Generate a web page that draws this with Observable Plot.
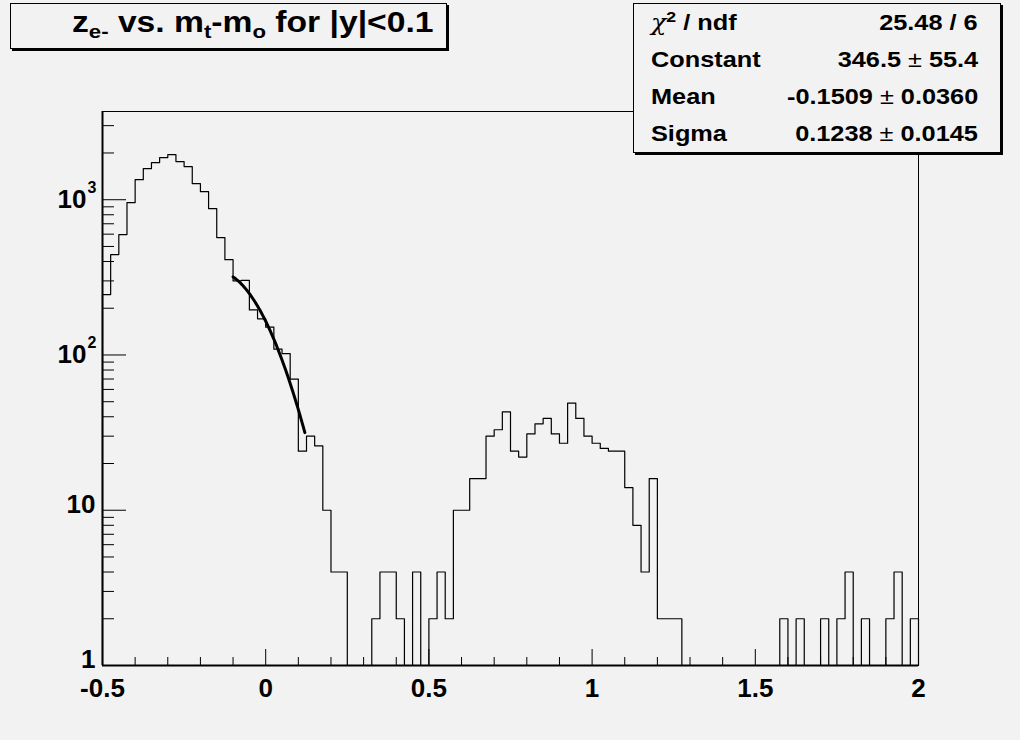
<!DOCTYPE html>
<html>
<head>
<meta charset="utf-8">
<script src="https://cdn.jsdelivr.net/npm/d3@7"></script>
<script src="https://cdn.jsdelivr.net/npm/@observablehq/plot@0.6"></script>
<style>
  html, body { margin: 0; padding: 0; background: #f2f2f2; overflow: hidden; }
  #wrap { position: relative; width: 1020px; height: 740px; background: #f2f2f2;
          font-family: "Liberation Sans", Arial, sans-serif; font-weight: bold; color: #000; }
  #chart svg { display: block; }
  .pave { position: absolute; box-sizing: border-box; border: 1px solid #000;
          box-shadow: 2px 2px 0 #000; background: #f2f2f2; }
  .title { left: 10px; top: 3px; width: 437px; height: 46px; }
  .title .tt { position: absolute; left: 61px; top: 4px; font-size: 29px; line-height: 1;
               white-space: nowrap; transform: scaleX(1.16); transform-origin: 0 0; }
  .title sub { font-size: 0.66em; vertical-align: -0.32em; line-height: 0; }
  .stats { left: 633px; top: 3px; width: 368px; height: 150px;
           display: flex; flex-direction: column; padding: 0 22px 0 17px; }
  .row { flex: 1; display: flex; justify-content: space-between; align-items: center;
         font-size: 22px; white-space: nowrap; }
  .row .l { transform: scaleX(1.15); transform-origin: 0 50%; }
  .row .r { transform: scaleX(1.15); transform-origin: 100% 50%; }
  .row sup { font-size: 0.7em; vertical-align: 0.5em; line-height: 0; }
  .pm { font-weight: normal; }
  .chi { font-weight: normal; font-family: "DejaVu Serif", serif; font-style: italic; }
</style>
</head>
<body>
<div id="wrap">
  <div id="chart"></div>
  <div class="pave title"><div class="tt">z<sub>e-</sub> vs. m<sub>t</sub>-m<sub>o</sub> for |y|&lt;0.1</div></div>
  <div class="pave stats">
    <div class="row"><span class="l"><span class="chi">χ</span><sup>2</sup> / ndf</span><span class="r">25.48 / 6</span></div>
    <div class="row"><span class="l">Constant</span><span class="r">346.5 <span class="pm">±</span> 55.4</span></div>
    <div class="row"><span class="l">Mean</span><span class="r">-0.1509 <span class="pm">±</span> 0.0360</span></div>
    <div class="row"><span class="l">Sigma</span><span class="r">0.1238 <span class="pm">±</span> 0.0145</span></div>
  </div>
</div>
<script>
// ---- data ----
const xMin = -0.5;
const xMax = 2.0;
const binWidth = 0.025;
const binCounts = [
  245, 443, 596, 958, 1347, 1586, 1734, 1867, 1951, 1760,
  1634, 1270, 1128, 877, 570, 411, 300, 302, 195, 171,
  151, 109, 102, 70, 24, 30, 26, 10, 4, 4,
  0, 0, 0, 2, 4, 4, 2, 0, 4, 0,
  2, 4, 2, 10, 10, 16, 16, 30, 33, 43,
  24, 22, 31, 36, 39, 31, 27, 49, 39, 30,
  27, 25, 24, 24, 14, 8, 4, 16, 2, 2,
  2, 0, 0, 0, 0, 0, 0, 0, 0, 0,
  0, 0, 0, 2, 0, 2, 0, 0, 2, 0,
  2, 4, 0, 2, 0, 0, 2, 4, 0, 2
];
const fitConstant = 346.5;
const fitMean = -0.1509;
const fitSigma = 0.1238;
const fitRange = [-0.1, 0.12];
const yMax = 3700;
const xMajorTicks = [-0.5, 0, 0.5, 1, 1.5, 2];
const xTickLabels = ["-0.5", "0", "0.5", "1", "1.5", "2"];
const yMajorTicks = [1, 10, 100, 1000];
const yTickBase = ["1", "10", "10", "10"];
const yTickExponent = ["", "", "2", "3"];

// ---- derived tables ----
const stepPts = [{x: xMin, y: 0}]
  .concat(binCounts.map((c, i) => ({x: xMin + i * binWidth, y: c})))
  .concat([{x: xMax, y: binCounts[binCounts.length - 1]}, {x: xMax, y: 0}]);

const fitPts = d3.range(0, 89).map(i => {
  const x = fitRange[0] + i * (fitRange[1] - fitRange[0]) / 88;
  return {x, y: fitConstant * Math.exp(-0.5 * ((x - fitMean) / fitSigma) ** 2)};
});

const xMinor = d3.range(-5, 21).map(i => i / 10).filter(v => !xMajorTicks.some(m => Math.abs(m - v) < 1e-9));
const yMinor = yMajorTicks.flatMap(d => d3.range(2, 10).map(k => k * d)).filter(v => v < yMax);

const yLabels = yMajorTicks.map((v, i) => ({v, base: yTickBase[i], exp: yTickExponent[i]}));
const yPlain = yLabels.filter(d => !d.exp);
const yPow = yLabels.filter(d => d.exp);

const plot = Plot.plot({
  width: 1020,
  height: 740,
  marginLeft: 102,
  marginRight: 102,
  marginTop: 111,
  marginBottom: 75,
  style: {background: "#f2f2f2", fontFamily: "'Liberation Sans', Arial, sans-serif",
          fontSize: "26px", fontWeight: "bold", color: "#000"},
  x: {domain: [xMin, xMax], label: null, axis: null},
  y: {type: "log", domain: [1, yMax], label: null, axis: null},
  marks: [
    Plot.frame({stroke: "#000", strokeWidth: 1}),
    Plot.tickX(xMinor, {insetTop: 546, stroke: "#000"}),
    Plot.tickX(xMajorTicks, {insetTop: 538, stroke: "#000"}),
    Plot.tickY(yMinor, {insetRight: 804, stroke: "#000"}),
    Plot.tickY(yMajorTicks, {insetRight: 792, stroke: "#000"}),
    Plot.ruleX([xMin], {stroke: "#000", strokeWidth: 2}),
    Plot.ruleY([1], {stroke: "#000", strokeWidth: 2}),
    Plot.axisX({ticks: xMajorTicks, tickSize: 0, tickPadding: 13, label: null,
                tickFormat: d => xTickLabels[xMajorTicks.indexOf(d)]}),
    Plot.text(yPlain, {x: () => xMin, y: "v", text: "base", textAnchor: "end",
                       dx: -7, dy: -6, fontSize: 26}),
    Plot.text(yPow, {x: () => xMin, y: "v", text: "base", textAnchor: "end",
                     dx: -16, dy: 0, fontSize: 26}),
    Plot.text(yPow, {x: () => xMin, y: "v", text: "exp", textAnchor: "end",
                     dx: -6, dy: -12, fontSize: 16}),
    Plot.line(stepPts, {x: "x", y: d => Math.max(d.y, 1), curve: "step-after",
                        stroke: "#000", strokeWidth: 1.2}),
    Plot.line(fitPts, {x: "x", y: "y", stroke: "#000", strokeWidth: 3})
  ]
});
document.getElementById("chart").appendChild(plot);
</script>
</body>
</html>
